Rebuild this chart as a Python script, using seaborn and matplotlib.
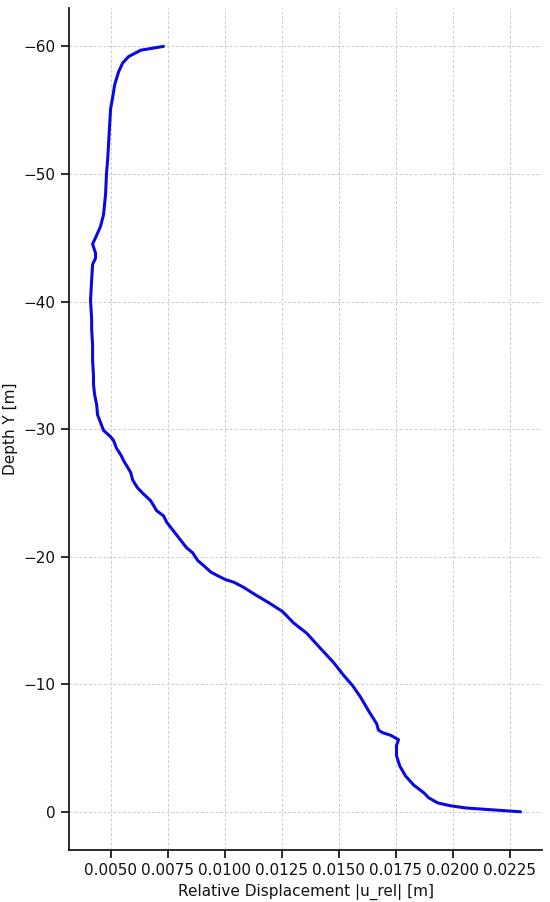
import numpy as np
import pandas as pd
import matplotlib
matplotlib.use('Agg')
import matplotlib.pyplot as plt
import seaborn as sns

# ── DATA ──────────────────────────────────────────────────────
depth = [-60.0, -59.7, -59.2, -58.7, -58.0, -57.0, -56.0, -55.1, -53.9, -52.3,
         -51.1, -50.0, -48.4, -46.8, -45.9, -45.2, -44.5, -43.8, -43.4, -42.9,
         -41.7, -40.1, -38.6, -37.8, -36.6, -35.4, -34.2, -33.5, -32.7, -31.9,
         -31.1, -30.7, -29.9, -29.4, -29.1, -28.5, -28.0, -27.4, -27.0, -26.6,
         -26.0, -25.4, -24.9, -24.4, -24.0, -23.6, -23.2, -22.7, -22.1, -21.3,
         -20.7, -20.3, -19.7, -19.3, -18.8, -18.5, -18.2, -18.0, -17.6, -17.0,
         -16.4, -15.7, -14.8, -14.0, -12.8, -11.7, -10.7, -9.9, -9.0, -7.9,
         -6.9, -6.4, -6.2, -6.0, -5.65, -5.2, -4.4, -3.6, -2.8, -2.1,
         -1.5, -1.1, -0.7, -0.47, -0.3, -0.16, 0.0]
u_rel = [0.00732, 0.00632, 0.00579, 0.00553, 0.00535, 0.00518, 0.00509, 0.00500, 0.00496, 0.00491,
         0.00487, 0.00482, 0.00478, 0.00469, 0.00456, 0.00439, 0.00421, 0.00434, 0.00434, 0.00421,
         0.00417, 0.00412, 0.00417, 0.00417, 0.00421, 0.00421, 0.00425, 0.00425, 0.00430, 0.00439,
         0.00443, 0.00452, 0.00469, 0.00500, 0.00513, 0.00526, 0.00544, 0.00561, 0.00575, 0.00588,
         0.00597, 0.00618, 0.00645, 0.00675, 0.00689, 0.00702, 0.00732, 0.00746, 0.00772, 0.00807,
         0.00833, 0.00860, 0.00882, 0.00908, 0.00939, 0.00970, 0.01004, 0.01040, 0.01083, 0.01136,
         0.01193, 0.01254, 0.01303, 0.01360, 0.01421, 0.01478, 0.01522, 0.01561, 0.01596, 0.01632,
         0.01667, 0.01675, 0.01693, 0.01728, 0.01763, 0.01754, 0.01754, 0.01768, 0.01794, 0.01829,
         0.01873, 0.01895, 0.01934, 0.01991, 0.02057, 0.02167, 0.02298]

df = pd.DataFrame({'u_rel': u_rel, 'depth': depth})

# ── PLOT ──────────────────────────────────────────────────────
sns.set_theme(style="ticks", rc={'axes.edgecolor': '#111111', 'xtick.color': '#111111',
                                 'ytick.color': '#111111', 'text.color': '#111111',
                                 'axes.labelcolor': '#111111'})
plt.rcParams['font.family'] = ['DejaVu Sans']

fig, ax = plt.subplots(figsize=(5.5, 9.02), dpi=100)
sns.lineplot(data=df, x='u_rel', y='depth', sort=False, estimator=None,
             color='#0a0ae0', linewidth=2.2, ax=ax)
ax.invert_yaxis()
ax.grid(True, linestyle='--', color='#cccccc', linewidth=0.7, dashes=(3, 2))
sns.despine(ax=ax)
ax.set_xticks([0.005, 0.0075, 0.01, 0.0125, 0.015, 0.0175, 0.02, 0.0225])
ax.set_xticklabels(['0.0050', '0.0075', '0.0100', '0.0125', '0.0150', '0.0175', '0.0200', '0.0225'])
ax.tick_params(labelsize=11)
ax.set_xlabel('Relative Displacement |u_rel| [m]', fontsize=11)
ax.set_ylabel('Depth Y [m]', fontsize=11)

plt.subplots_adjust(left=0.1255, right=0.9855, top=0.991, bottom=0.0576)
plt.savefig('out.png', dpi=100)
plt.close()
